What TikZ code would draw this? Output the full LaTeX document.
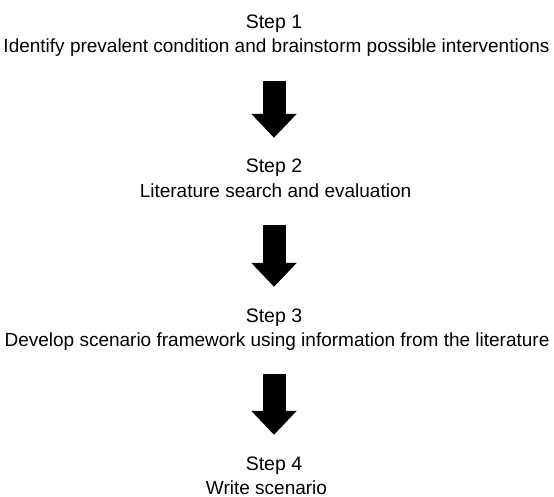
\documentclass[tikz,border=0pt]{standalone}
\usepackage{fontspec}
\setmainfont{Liberation Sans}
\usetikzlibrary{arrows.meta}
\tikzset{
  steptitle/.style = {inner sep=0pt, anchor=base, text height=14pt,
    font=\fontsize{19.5}{22}\selectfont},
  stepdesc/.style  = {inner sep=0pt, anchor=base, text depth=0pt,
    font=\fontsize{19}{22}\selectfont},
  blockarrow/.style = {line width=23pt, -{Triangle[width=44pt,length=24pt]},
    shorten <=28pt, shorten >=21pt}
}

\begin{document}
\begin{tikzpicture}[x=1pt,y=-1pt]
  \useasboundingbox (0,0) rectangle (554,497);
  % steps
  \node[steptitle] (step1) at (274,29)  {Step 1};
  \node[stepdesc]  (desc1) at (276.5,53)  {Identify prevalent condition and brainstorm possible interventions};
  \node[steptitle] (step2) at (274,173) {Step 2};
  \node[stepdesc]  (desc2) at (275.5,197) {Literature search and evaluation};
  \node[steptitle] (step3) at (274,322) {Step 3};
  \node[stepdesc]  (desc3) at (277,346) {Develop scenario framework using information from the literature};
  \node[steptitle] (step4) at (274,470) {Step 4};
  \node[stepdesc]  (desc4) at (266.5,494) {Write scenario};
  % arrows
  \draw[blockarrow] (desc1.south -| step2.north) -- (step2.north);
  \draw[blockarrow] (desc2.south -| step3.north) -- (step3.north);
  \draw[blockarrow] (desc3.south -| step4.north) -- (step4.north);
\end{tikzpicture}
\end{document}
